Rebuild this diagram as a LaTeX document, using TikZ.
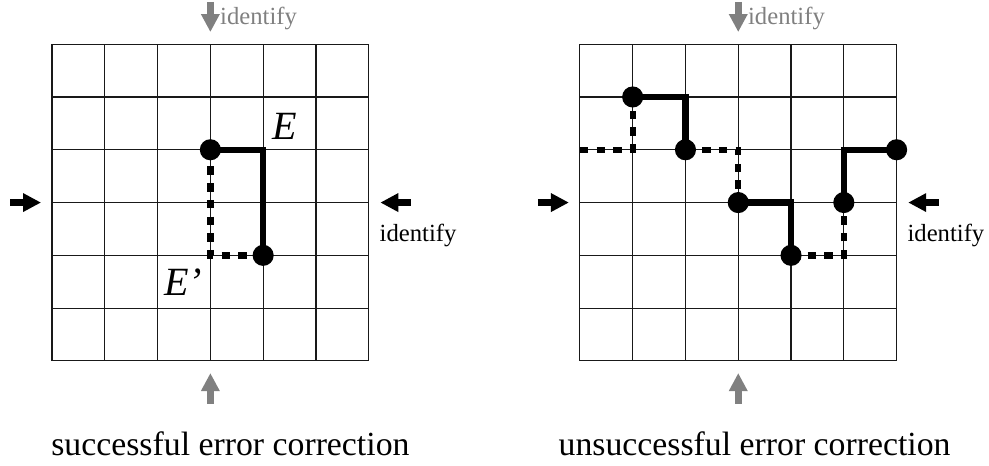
\documentclass[tikz,border=0pt]{standalone}
\usepackage{fontspec}
\setmainfont{Liberation Serif}
\usetikzlibrary{arrows.meta}

\begin{document}
\begin{tikzpicture}[
            gridline/.style={black!90, line width=0.6pt},
            errpath/.style={line width=3.4pt},
            corrpath/.style={line width=3.4pt, dash pattern=on 4.5pt off 4.5pt},
            dotnode/.style={circle, fill=black, inner sep=0pt, minimum size=0.4cm},
            blackarrow/.style={line width=3.4pt, -{Triangle[length=9.7pt,width=9.5pt]}},
            grayarrow/.style={black!50, line width=3.6pt, -{Triangle[length=9.7pt,width=9.5pt]}},
            idlabel/.style={inner sep=0pt, font=\fontsize{13.3}{15}\selectfont},
            caption/.style={inner sep=0pt, font=\fontsize{18.2}{21}\selectfont},
            errlabel/.style={inner sep=0pt, font=\fontsize{21.6}{25}\selectfont\itshape},
        ]
        \useasboundingbox (-0.985,-1.989) rectangle (17.75,6.837);

        % successful error correction
        \draw[gridline] (0,0) grid (6,6);
        \coordinate (l1) at (3,4);
        \coordinate (l2) at (4,2);
        \draw[corrpath] (l1) |- (l2);
        \draw[errpath] (l1) -| (l2);
        \node[dotnode] (dl1) at (l1) {};
        \node[dotnode] (dl2) at (l2) {};
        \node[errlabel] (E) at (4.41,4.45) {E};
        \node[errlabel] (Eprime) at (2.48,1.5) {E’};

        \coordinate (lwa) at (-0.795,3);
        \coordinate (lwb) at (-0.208,3);
        \draw[blackarrow] (lwa) -- (lwb);
        \coordinate (lea) at (6.8,3);
        \coordinate (leb) at (6.22,3);
        \draw[blackarrow] (lea) -- (leb);
        \node[idlabel, anchor=base west] (lid) at (6.2,2.27) {identify};
        \coordinate (lna) at (3,6.8);
        \coordinate (lnb) at (3,6.23);
        \draw[grayarrow] (lna) -- (lnb);
        \node[idlabel, text=black!50, anchor=base west] (ltop) at (3.18,6.38) {identify};
        \coordinate (lsa) at (3,-0.81);
        \coordinate (lsb) at (3,-0.23);
        \draw[grayarrow] (lsa) -- (lsb);
        \node[caption, anchor=base] (lcap) at (3.38,-1.8) {successful error correction};

        % unsuccessful error correction
        \draw[gridline] (10,0) grid (16,6);
        \coordinate (r0) at (10,4);
        \coordinate (r1) at (11,5);
        \coordinate (r2) at (12,4);
        \coordinate (r3) at (13,3);
        \coordinate (r4) at (14,2);
        \coordinate (r5) at (15,3);
        \coordinate (r6) at (16,4);
        \draw[corrpath] (r0) -| (r1);
        \draw[corrpath] (r2) -| (r3);
        \draw[corrpath] (r4) -| (r5);
        \draw[errpath] (r1) -| (r2);
        \draw[errpath] (r3) -| (r4);
        \draw[errpath] (r5) |- (r6);
        \node[dotnode] (dr1) at (r1) {};
        \node[dotnode] (dr2) at (r2) {};
        \node[dotnode] (dr3) at (r3) {};
        \node[dotnode] (dr4) at (r4) {};
        \node[dotnode] (dr5) at (r5) {};
        \node[dotnode] (dr6) at (r6) {};

        \coordinate (rwa) at (9.205,3);
        \coordinate (rwb) at (9.792,3);
        \draw[blackarrow] (rwa) -- (rwb);
        \coordinate (rea) at (16.8,3);
        \coordinate (reb) at (16.22,3);
        \draw[blackarrow] (rea) -- (reb);
        \node[idlabel, anchor=base west] (rid) at (16.2,2.27) {identify};
        \coordinate (rna) at (13,6.8);
        \coordinate (rnb) at (13,6.23);
        \draw[grayarrow] (rna) -- (rnb);
        \node[idlabel, text=black!50, anchor=base west] (rtop) at (13.18,6.38) {identify};
        \coordinate (rsa) at (13,-0.81);
        \coordinate (rsb) at (13,-0.23);
        \draw[grayarrow] (rsa) -- (rsb);
        \node[caption, anchor=base] (rcap) at (13.31,-1.8) {unsuccessful error correction};

    \end{tikzpicture}
\end{document}
